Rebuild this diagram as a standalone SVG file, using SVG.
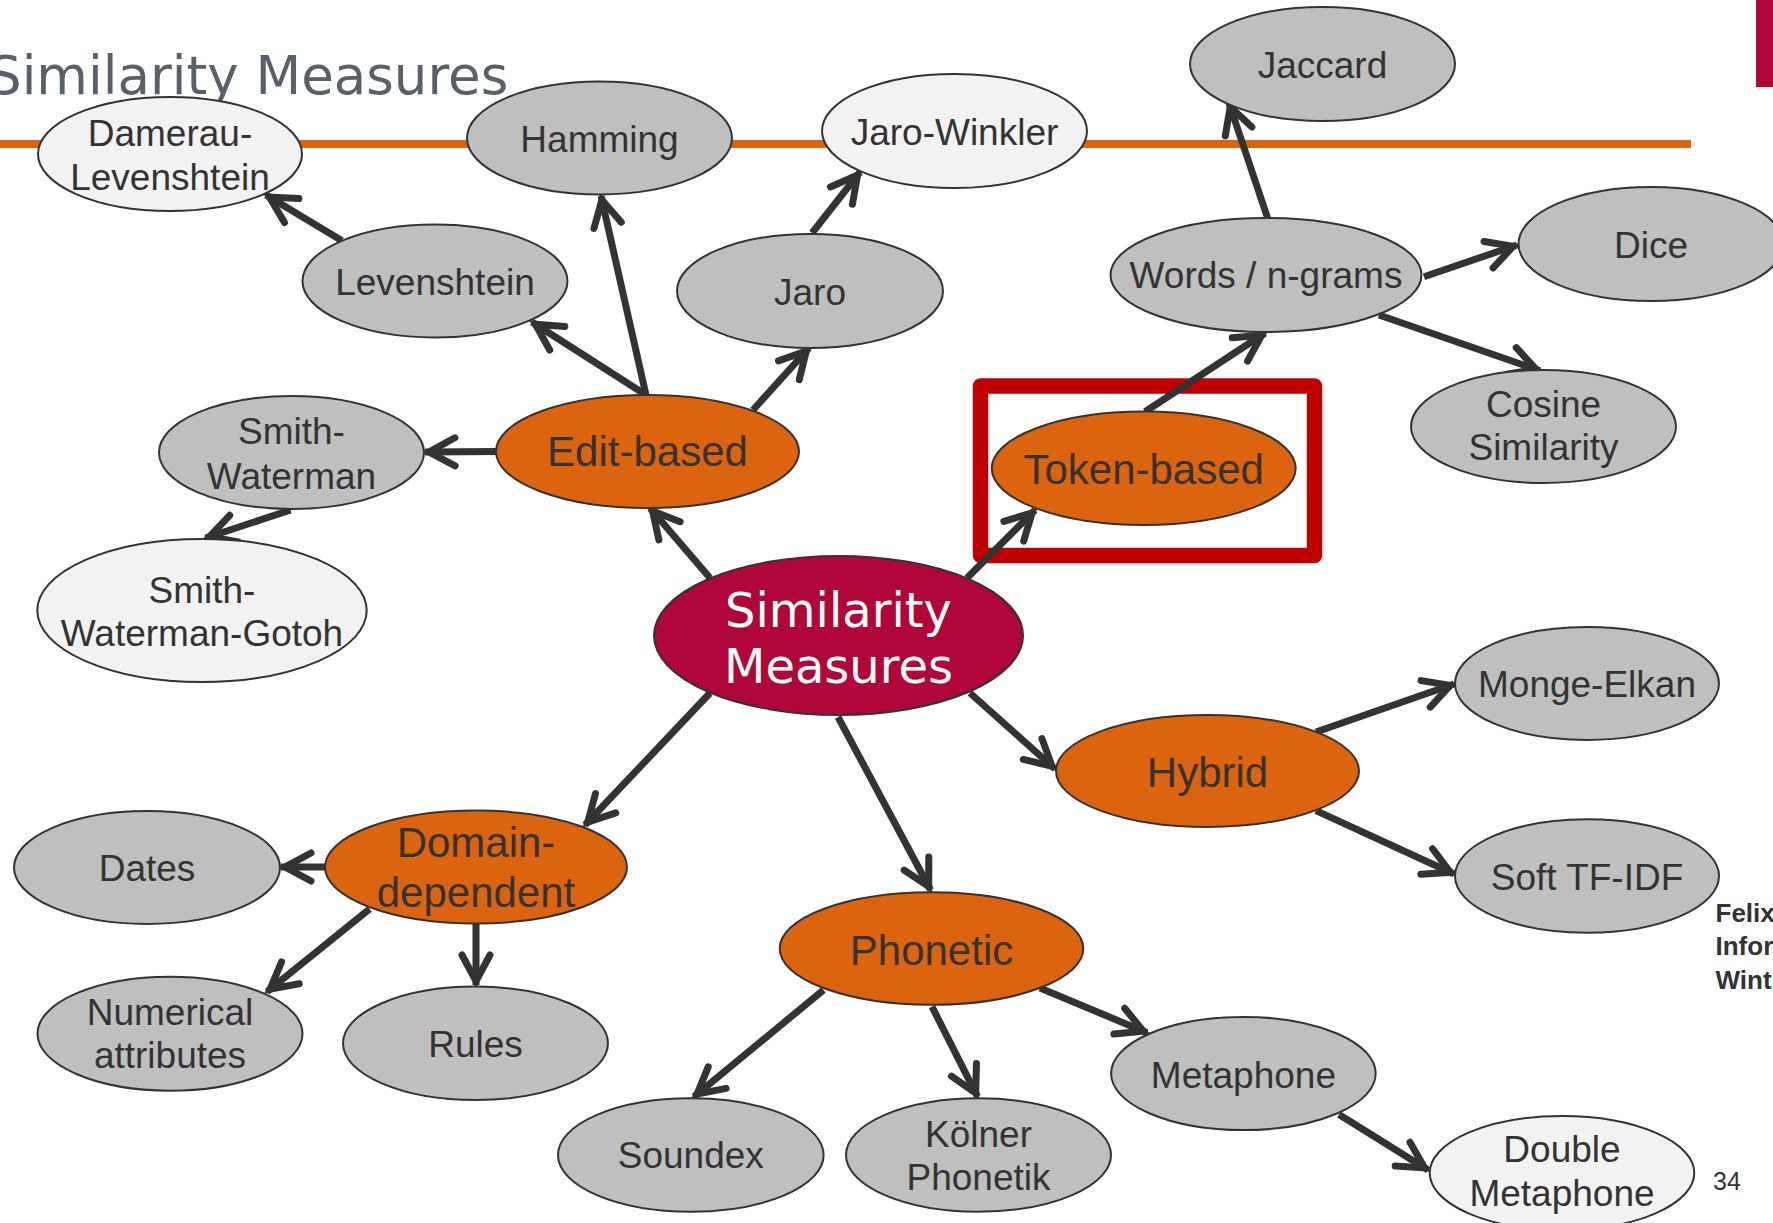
<svg xmlns="http://www.w3.org/2000/svg" width="1773" height="1223" viewBox="0 0 1773 1223">
  <defs>
    <style>
      .leaf { fill: #bfbfbf; stroke: #333333; stroke-width: 2; }
      .pale { fill: #f2f2f2; stroke: #333333; stroke-width: 2; }
      .cat { fill: #dc640e; stroke: #333333; stroke-width: 2; }
      .root { fill: #b0063a; stroke: #333333; stroke-width: 2; }
      .lbl { font-family: "Liberation Sans", Arial, sans-serif; font-size: 37px; fill: #333333; text-anchor: middle; }
      .clbl { font-family: "Liberation Sans", Arial, sans-serif; font-size: 42px; fill: #333333; text-anchor: middle; }
      .rlbl { font-family: "DejaVu Sans", Verdana, sans-serif; font-size: 48px; fill: #ffffff; text-anchor: middle; }
      .edge { stroke: #333333; stroke-width: 7; fill: none; marker-end: url(#arr); }
      .foot { font-family: "Liberation Sans", Arial, sans-serif; font-size: 26px; font-weight: bold; fill: #333333; }
    </style>
    <marker id="arr" markerUnits="userSpaceOnUse" viewBox="-40 -25 50 50" markerWidth="50" markerHeight="50" refX="0" refY="0" orient="auto" overflow="visible">
      <path d="M-30,-14 L-4,0 L-30,14" fill="none" stroke="#333333" stroke-width="7" stroke-linecap="round" stroke-linejoin="miter"/>
    </marker>
  </defs>

  <rect width="1773" height="1223" fill="#ffffff"/>

  <!-- slide header -->
  <g id="header">
    <line x1="0" y1="144" x2="1691" y2="144" stroke="#dc640e" stroke-width="8"/>
    <rect x="1756" y="0" width="17" height="87" fill="#b0063a"/>
    <text x="-12" y="94" font-family="'DejaVu Sans', Verdana, sans-serif" font-size="53" fill="#58616a">Similarity Measures</text>
  </g>

  <!-- highlight frame around the token-based branch -->
  <rect id="highlight" x="980.5" y="386" width="334" height="169.5" fill="none" stroke="#c00000" stroke-width="15.5" stroke-linejoin="round"/>

  <!-- connectors -->
  <g id="connectors">
    <line class="edge" x1="710" y1="578" x2="650" y2="508"/>
    <line class="edge" x1="646" y1="395" x2="532" y2="322"/>
    <line class="edge" x1="646" y1="395" x2="601" y2="196"/>
    <line class="edge" x1="753" y1="410" x2="809" y2="348"/>
    <line class="edge" x1="497" y1="451.5" x2="425" y2="452"/>
    <line class="edge" x1="342" y1="240.7" x2="266" y2="195"/>
    <line class="edge" x1="290.6" y1="510" x2="205.6" y2="538"/>
    <line class="edge" x1="812" y1="233" x2="860" y2="172"/>
    <line class="edge" x1="967" y1="578" x2="1035" y2="510"/>
    <line class="edge" x1="1145" y1="411.7" x2="1265" y2="333"/>
    <line class="edge" x1="1267.6" y1="218" x2="1229" y2="103"/>
    <line class="edge" x1="1424" y1="276.7" x2="1517" y2="245"/>
    <line class="edge" x1="1379" y1="315" x2="1540" y2="370.7"/>
    <line class="edge" x1="970" y1="693" x2="1055" y2="769"/>
    <line class="edge" x1="1316" y1="732" x2="1454" y2="684"/>
    <line class="edge" x1="1316" y1="810.6" x2="1454" y2="874"/>
    <line class="edge" x1="838" y1="717" x2="930.6" y2="890"/>
    <line class="edge" x1="823.5" y1="990" x2="694" y2="1096.7"/>
    <line class="edge" x1="932" y1="1006.7" x2="977.5" y2="1096.7"/>
    <line class="edge" x1="1040" y1="988" x2="1147" y2="1032.7"/>
    <line class="edge" x1="1339" y1="1114.5" x2="1428" y2="1170"/>
    <line class="edge" x1="710" y1="693" x2="585" y2="825"/>
    <line class="edge" x1="326" y1="867" x2="281" y2="867"/>
    <line class="edge" x1="369.6" y1="909" x2="267" y2="991.7"/>
    <line class="edge" x1="476" y1="924" x2="476" y2="985"/>
  </g>

  <!-- central node -->
  <g id="similarity-measures">
    <ellipse class="root" cx="838.5" cy="635.5" rx="184.5" ry="79.5"/>
    <text class="rlbl" x="838.5" y="627">Similarity</text>
    <text class="rlbl" x="838.5" y="683">Measures</text>
  </g>

  <!-- category nodes -->
  <g id="edit-based">
    <ellipse class="cat" cx="647.5" cy="451.5" rx="151.5" ry="56.5"/>
    <text class="clbl" x="647.5" y="466">Edit-based</text>
  </g>
  <g id="token-based">
    <ellipse class="cat" cx="1143.7" cy="468.3" rx="152" ry="56.7"/>
    <text class="clbl" x="1143.7" y="484">Token-based</text>
  </g>
  <g id="hybrid">
    <ellipse class="cat" cx="1207.5" cy="771" rx="151.5" ry="56"/>
    <text class="clbl" x="1207.5" y="786.5">Hybrid</text>
  </g>
  <g id="phonetic">
    <ellipse class="cat" cx="931.5" cy="948.5" rx="151.8" ry="56.3"/>
    <text class="clbl" x="931.5" y="964.5">Phonetic</text>
  </g>
  <g id="domain-dependent">
    <ellipse class="cat" cx="476" cy="867" rx="151" ry="56.5"/>
    <text class="clbl" x="476" y="857">Domain-</text>
    <text class="clbl" x="476" y="906.5">dependent</text>
  </g>

  <!-- edit-based measures -->
  <g id="levenshtein">
    <ellipse class="leaf" cx="435" cy="281" rx="132.5" ry="56.5"/>
    <text class="lbl" x="435" y="294.5">Levenshtein</text>
  </g>
  <g id="damerau-levenshtein">
    <ellipse class="pale" cx="170" cy="154" rx="132" ry="57"/>
    <text class="lbl" x="170" y="146">Damerau-</text>
    <text class="lbl" x="170" y="190">Levenshtein</text>
  </g>
  <g id="hamming">
    <ellipse class="leaf" cx="599.5" cy="138" rx="132.5" ry="56.5"/>
    <text class="lbl" x="599.5" y="151.5">Hamming</text>
  </g>
  <g id="jaro">
    <ellipse class="leaf" cx="810" cy="291" rx="133" ry="57"/>
    <text class="lbl" x="810" y="304.5">Jaro</text>
  </g>
  <g id="jaro-winkler">
    <ellipse class="pale" cx="954.5" cy="131" rx="132.5" ry="57"/>
    <text class="lbl" x="954.5" y="144.5">Jaro-Winkler</text>
  </g>
  <g id="smith-waterman">
    <ellipse class="leaf" cx="291.5" cy="452.5" rx="132.5" ry="56.5"/>
    <text class="lbl" x="291.5" y="443.5">Smith-</text>
    <text class="lbl" x="291.5" y="488.5">Waterman</text>
  </g>
  <g id="smith-waterman-gotoh">
    <ellipse class="pale" cx="202" cy="610.5" rx="164.7" ry="71.5"/>
    <text class="lbl" x="202" y="602.5">Smith-</text>
    <text class="lbl" x="202" y="646">Waterman-Gotoh</text>
  </g>

  <!-- token-based measures -->
  <g id="words-ngrams">
    <ellipse class="leaf" cx="1266" cy="275" rx="155.5" ry="57"/>
    <text class="lbl" x="1266" y="288">Words / n-grams</text>
  </g>
  <g id="jaccard">
    <ellipse class="leaf" cx="1322.5" cy="64" rx="132.5" ry="57"/>
    <text class="lbl" x="1322.5" y="77.5">Jaccard</text>
  </g>
  <g id="dice">
    <ellipse class="leaf" cx="1651" cy="244" rx="132.5" ry="57"/>
    <text class="lbl" x="1651" y="257.5">Dice</text>
  </g>
  <g id="cosine-similarity">
    <ellipse class="leaf" cx="1543.5" cy="426.5" rx="132.5" ry="56.5"/>
    <text class="lbl" x="1543.5" y="417">Cosine</text>
    <text class="lbl" x="1543.5" y="460">Similarity</text>
  </g>

  <!-- hybrid measures -->
  <g id="monge-elkan">
    <ellipse class="leaf" cx="1587" cy="683.5" rx="132" ry="56.5"/>
    <text class="lbl" x="1587" y="697">Monge-Elkan</text>
  </g>
  <g id="soft-tf-idf">
    <ellipse class="leaf" cx="1587" cy="876" rx="132" ry="56.7"/>
    <text class="lbl" x="1587" y="889.5">Soft TF-IDF</text>
  </g>

  <!-- phonetic measures -->
  <g id="metaphone">
    <ellipse class="leaf" cx="1243.4" cy="1073.5" rx="132.3" ry="56.6"/>
    <text class="lbl" x="1243.4" y="1087.5">Metaphone</text>
  </g>
  <g id="double-metaphone">
    <ellipse class="pale" cx="1562" cy="1173" rx="132.3" ry="57"/>
    <text class="lbl" x="1562" y="1162">Double</text>
    <text class="lbl" x="1562" y="1206">Metaphone</text>
  </g>
  <g id="soundex">
    <ellipse class="leaf" cx="690.8" cy="1155" rx="132.8" ry="56.7"/>
    <text class="lbl" x="690.8" y="1168">Soundex</text>
  </g>
  <g id="koelner-phonetik">
    <ellipse class="leaf" cx="978.5" cy="1155" rx="132.5" ry="56.7"/>
    <text class="lbl" x="978.5" y="1146.5">Kölner</text>
    <text class="lbl" x="978.5" y="1190">Phonetik</text>
  </g>

  <!-- domain-dependent measures -->
  <g id="dates">
    <ellipse class="leaf" cx="147" cy="867.5" rx="133" ry="56.5"/>
    <text class="lbl" x="147" y="880.5">Dates</text>
  </g>
  <g id="numerical-attributes">
    <ellipse class="leaf" cx="170" cy="1033.7" rx="132.5" ry="57"/>
    <text class="lbl" x="170" y="1025">Numerical</text>
    <text class="lbl" x="170" y="1068">attributes</text>
  </g>
  <g id="rules">
    <ellipse class="leaf" cx="475.5" cy="1043.3" rx="132.5" ry="56.7"/>
    <text class="lbl" x="475.5" y="1056.5">Rules</text>
  </g>

  <!-- slide footer -->
  <g id="footer">
    <text class="foot" x="1715.5" y="922">Felix</text>
    <text class="foot" x="1715.5" y="955">Infor</text>
    <text class="foot" x="1715.5" y="989">Wint</text>
    <text x="1713" y="1190" font-family="'Liberation Sans', Arial, sans-serif" font-size="25" fill="#333333">34</text>
  </g>
</svg>
